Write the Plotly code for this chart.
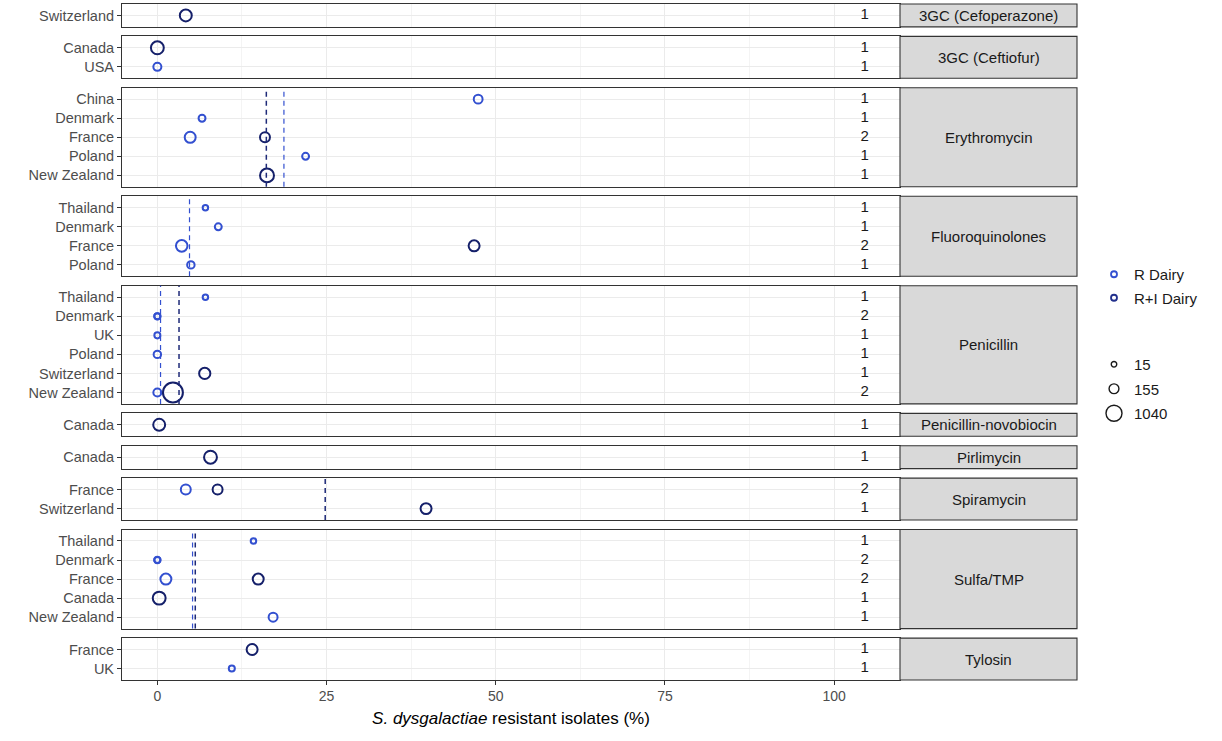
import math
import plotly.graph_objects as go

# ---------------- data ----------------
facets = ["3GC (Cefoperazone)", "3GC (Ceftiofur)", "Erythromycin", "Fluoroquinolones",
          "Penicillin", "Penicillin-novobiocin", "Pirlimycin", "Spiramycin",
          "Sulfa/TMP", "Tylosin"]

facet_countries = [
    ["Switzerland"],
    ["Canada", "USA"],
    ["China", "Denmark", "France", "Poland", "New Zealand"],
    ["Thailand", "Denmark", "France", "Poland"],
    ["Thailand", "Denmark", "UK", "Poland", "Switzerland", "New Zealand"],
    ["Canada"],
    ["Canada"],
    ["France", "Switzerland"],
    ["Thailand", "Denmark", "France", "Canada", "New Zealand"],
    ["France", "UK"],
]

facet_study_counts = [
    [1], [1, 1], [1, 1, 2, 1, 1], [1, 1, 2, 1], [1, 2, 1, 1, 1, 2],
    [1], [1], [2, 1], [1, 2, 2, 1, 1], [1, 1],
]

series_names = ["R Dairy", "R+I Dairy"]
series_colors = ["#3350D0", "#15206A"]

# points: facet, country, series, % resistant, number of isolates
pt_facet = [
    "3GC (Cefoperazone)",
    "3GC (Ceftiofur)", "3GC (Ceftiofur)",
    "Erythromycin", "Erythromycin", "Erythromycin", "Erythromycin", "Erythromycin", "Erythromycin",
    "Fluoroquinolones", "Fluoroquinolones", "Fluoroquinolones", "Fluoroquinolones", "Fluoroquinolones",
    "Penicillin", "Penicillin", "Penicillin", "Penicillin", "Penicillin", "Penicillin", "Penicillin", "Penicillin",
    "Penicillin-novobiocin",
    "Pirlimycin",
    "Spiramycin", "Spiramycin", "Spiramycin",
    "Sulfa/TMP", "Sulfa/TMP", "Sulfa/TMP", "Sulfa/TMP", "Sulfa/TMP", "Sulfa/TMP", "Sulfa/TMP",
    "Tylosin", "Tylosin",
]
pt_country = [
    "Switzerland",
    "Canada", "USA",
    "China", "Denmark", "France", "France", "Poland", "New Zealand",
    "Thailand", "Denmark", "France", "France", "Poland",
    "Thailand", "Denmark", "Denmark", "UK", "Poland", "Switzerland", "New Zealand", "New Zealand",
    "Canada",
    "Canada",
    "France", "France", "Switzerland",
    "Thailand", "Denmark", "Denmark", "France", "France", "Canada", "New Zealand",
    "France", "UK",
]
pt_series = [
    "R+I Dairy",
    "R+I Dairy", "R Dairy",
    "R Dairy", "R Dairy", "R Dairy", "R+I Dairy", "R Dairy", "R+I Dairy",
    "R Dairy", "R Dairy", "R Dairy", "R+I Dairy", "R Dairy",
    "R Dairy", "R Dairy", "R Dairy", "R Dairy", "R Dairy", "R+I Dairy", "R Dairy", "R+I Dairy",
    "R+I Dairy",
    "R+I Dairy",
    "R Dairy", "R+I Dairy", "R+I Dairy",
    "R Dairy", "R Dairy", "R Dairy", "R Dairy", "R+I Dairy", "R+I Dairy", "R Dairy",
    "R+I Dairy", "R Dairy",
]
pt_pct = [
    4.2,
    0.0, 0.0,
    47.4, 6.6, 4.85, 15.9, 21.9, 16.2,
    7.1, 9.0, 3.6, 46.8, 4.95,
    7.1, 0.0, 0.0, 0.0, 0.0, 7.0, 0.0, 2.3,
    0.27,
    7.85,
    4.2, 8.9, 39.7,
    14.2, 0.0, 0.0, 1.26, 14.9, 0.27, 17.1,
    14.0, 11.0,
]
pt_n = [
    275,
    340, 80,
    110, 45, 215, 160, 45, 420,
    15, 45, 250, 215, 60,
    15, 25, 30, 25, 60, 230, 80, 1040,
    275,
    340,
    160, 160, 215,
    15, 25, 30, 215, 215, 340, 115,
    215, 25,
]

# pooled estimate lines (dashed)
line_facet = ["Erythromycin", "Erythromycin", "Fluoroquinolones", "Penicillin",
              "Penicillin", "Spiramycin", "Sulfa/TMP", "Sulfa/TMP"]
line_series = ["R+I Dairy", "R Dairy", "R Dairy", "R Dairy",
               "R+I Dairy", "R+I Dairy", "R Dairy", "R+I Dairy"]
line_pct = [16.1, 18.7, 4.75, 0.47, 3.2, 24.8, 5.2, 5.6]

size_legend_values = [15, 155, 1040]
x_ticks = [0, 25, 50, 75, 100]
count_x = 104.5

# ---------------- styling / geometry ----------------
FONT = "Liberation Sans, Arial, sans-serif"
W, H = 1222, 741
ML, MR, MT, MB = 122, 0, 4, 61
PW, PH = W - ML - MR, H - MT - MB
x_dom_end = (900 - ML) / PW
strip_end = (1077 - ML) / PW
gap_px = 9.5
units = [len(c) + 0.2 for c in facet_countries]
unit_px = (PH - gap_px * (len(facets) - 1)) / sum(units)


def diam(n):
    # area-type size scale (ggplot-like)
    return 3.5 + 0.51 * math.sqrt(n)


col_of = dict(zip(series_names, series_colors))

fig = go.Figure()
layout = dict(
    width=W, height=H,
    margin=dict(l=ML, r=MR, t=MT, b=MB),
    paper_bgcolor="white", plot_bgcolor="white",
    font=dict(family=FONT, color="#1A1A1A"),
    shapes=[], annotations=[],
)

cur = PH
for i, fac in enumerate(facets):
    k = i + 1
    xa = "x" if k == 1 else f"x{k}"
    ya = "y" if k == 1 else f"y{k}"
    h = units[i] * unit_px
    dom = [(cur - h) / PH, cur / PH]
    cur -= h + gap_px
    last = (i == len(facets) - 1)
    cats = facet_countries[i]

    layout["xaxis" if k == 1 else f"xaxis{k}"] = dict(
        domain=[0, x_dom_end], anchor=ya, range=[-5.225, 109.725],
        tickmode="array", tickvals=x_ticks,
        showgrid=True, gridcolor="#EBEBEB", gridwidth=1.1,
        minor=dict(tickvals=[12.5, 37.5, 62.5, 87.5], showgrid=True,
                   gridcolor="#F4F4F4", gridwidth=0.6),
        zeroline=False, showline=True, mirror=True, linecolor="#333333", linewidth=1.1,
        ticks="outside" if last else "", ticklen=4, tickcolor="#333333", tickwidth=1.1,
        showticklabels=last, tickfont=dict(size=14, color="#4D4D4D", family=FONT),
        ticklabelstandoff=-1,
        matches=None if k == 1 else "x",
        fixedrange=True,
    )
    if last:
        layout["xaxis" if k == 1 else f"xaxis{k}"]["title"] = dict(
            text="<i>S. dysgalactiae</i> resistant isolates (%)",
            font=dict(size=17, color="#000000", family=FONT), standoff=9)

    layout["yaxis" if k == 1 else f"yaxis{k}"] = dict(
        domain=dom, anchor=xa, type="category",
        categoryorder="array", categoryarray=cats,
        range=[len(cats) - 0.4, -0.6],
        showgrid=True, gridcolor="#EBEBEB", gridwidth=1.1,
        zeroline=False, showline=True, mirror=True, linecolor="#333333", linewidth=1.1,
        ticks="outside", ticklen=4, tickcolor="#333333", tickwidth=1.1,
        tickfont=dict(size=14.5, color="#4D4D4D", family=FONT),
        fixedrange=True,
    )

    # strip
    layout["shapes"].append(dict(
        type="rect", xref="paper", yref=f"{ya} domain",
        x0=x_dom_end, x1=strip_end, y0=0, y1=1,
        fillcolor="#D9D9D9", line=dict(color="#333333", width=1.1), layer="above"))
    layout["annotations"].append(dict(
        xref="paper", yref=f"{ya} domain", x=(x_dom_end + strip_end) / 2, y=0.5,
        text=fac, showarrow=False, font=dict(size=15, color="#1A1A1A", family=FONT),
        xanchor="center", yanchor="middle"))

    # dashed pooled lines
    for lf, ls, lp in zip(line_facet, line_series, line_pct):
        if lf == fac:
            layout["shapes"].append(dict(
                type="line", xref=xa, yref=f"{ya} domain", x0=lp, x1=lp, y0=0, y1=1,
                line=dict(color=col_of[ls] if ls == "R Dairy" else "#1E2A78",
                          width=1.5 if ls == "R+I Dairy" else 1.2,
                          dash="5px,4px"), layer="above"))

    # points per series
    for s in series_names:
        idx = [j for j in range(len(pt_facet)) if pt_facet[j] == fac and pt_series[j] == s]
        if not idx:
            continue
        fig.add_trace(go.Scatter(
            x=[pt_pct[j] for j in idx], y=[pt_country[j] for j in idx],
            mode="markers", xaxis=xa, yaxis=ya, showlegend=False, hoverinfo="skip",
            marker=dict(symbol="circle-open", color=col_of[s], opacity=1,
                        size=[diam(pt_n[j]) for j in idx], line=dict(width=2))))

    # study counts
    fig.add_trace(go.Scatter(
        x=[count_x] * len(cats), y=cats, text=[str(c) for c in facet_study_counts[i]],
        mode="text", textposition="middle center", xaxis=xa, yaxis=ya,
        textfont=dict(size=15, color="#1A1A1A", family=FONT),
        showlegend=False, hoverinfo="skip"))

# legend entries (colour)
for s in series_names:
    fig.add_trace(go.Scatter(
        x=[None], y=[None], mode="markers", name=s, legend="legend", legendgroup=s,
        marker=dict(symbol="circle-open", color=col_of[s] if s == "R Dairy" else "#22308C",
                    size=6, line=dict(width=1.8))))
# legend entries (size)
for v in size_legend_values:
    fig.add_trace(go.Scatter(
        x=[None], y=[None], mode="markers", name=str(v), legend="legend2", legendgroup=str(v),
        marker=dict(symbol="circle-open", color="#1A1A1A", size=diam(v), line=dict(width=1.4))))

lx = (1094 - ML) / PW
layout["legend"] = dict(x=lx, xanchor="left", y=1 - (258 - MT) / PH, yanchor="top",
                        font=dict(size=15, color="#1A1A1A", family=FONT),
                        itemsizing="trace", tracegroupgap=1, bgcolor="rgba(0,0,0,0)")
layout["legend2"] = dict(x=lx, xanchor="left", y=1 - (348 - MT) / PH, yanchor="top",
                         font=dict(size=15, color="#1A1A1A", family=FONT),
                         itemsizing="trace", tracegroupgap=2, bgcolor="rgba(0,0,0,0)")

fig.update_layout(**layout)
fig.write_html("out.html", config={"displayModeBar": False},
               post_script="document.body.style.margin='0';document.body.style.padding='0';")
